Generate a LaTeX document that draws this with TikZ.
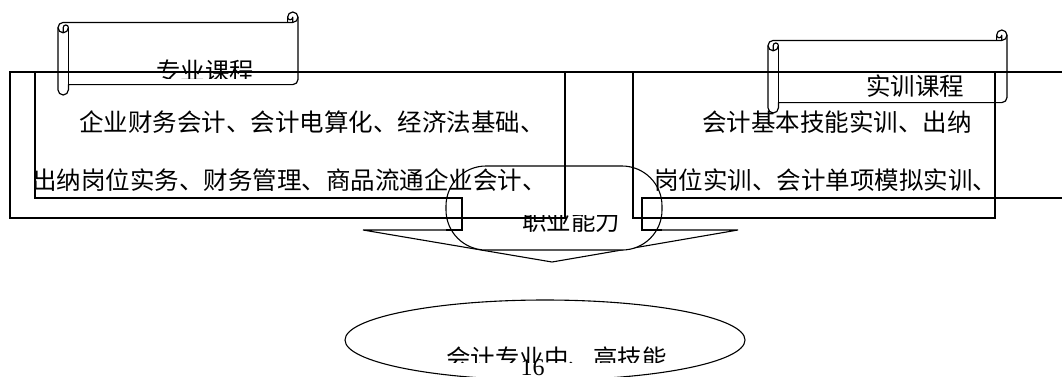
\documentclass[tikz,border=0pt]{standalone}
\usepackage{fontspec}
\newfontfamily\cjk{Noto Sans CJK SC}
\newfontfamily\tnr{Liberation Serif}
\tikzset{
  frame/.style={line width=1.1pt, line join=miter},
  scrollline/.style={line width=1.2pt, line join=round},
  txt/.style={inner sep=0pt, anchor=base west, font=\cjk\fontsize{24.5}{24.5}\selectfont},
}
% horizontal scroll: #1=L #2=T #3=R #4=B #5=c (roll size)
\newcommand\myhscroll[5]{%
  \pgfmathsetmacro\sL{#1}\pgfmathsetmacro\sT{#2}%
  \pgfmathsetmacro\sR{#3}\pgfmathsetmacro\sB{#4}%
  \pgfmathsetmacro\sc{#5}\pgfmathsetmacro\sch{#5/2}\pgfmathsetmacro\scq{#5/4}%
  \draw[scrollline] (\sL,\sT+1.5*\sc) arc[start angle=180,end angle=270,radius=\sch]
     -- (\sR-\sc,\sT+\sc) -- (\sR-\sc,\sT+\sch)
     arc[start angle=180,end angle=360,radius=\sch]
     -- (\sR,\sB-1.5*\sc) arc[start angle=0,end angle=90,radius=\sch]
     -- (\sL+\sc,\sB-\sc) -- (\sL+\sc,\sB-\sch)
     arc[start angle=0,end angle=180,radius=\sch] -- cycle;
  \draw[scrollline] (\sR-\sc,\sT+\sc) -- (\sR-\sch,\sT+\sc)
     arc[start angle=90,end angle=0,radius=\sch];
  \draw[scrollline] (\sR-\sch,\sT+\sc) -- (\sR-\sch,\sT+\sch)
     arc[start angle=0,end angle=180,radius=\scq];
  \draw[scrollline] (\sL+\sch,\sT+2*\sc) -- (\sL+\sch,\sT+1.5*\sc)
     arc[start angle=180,end angle=360,radius=\scq]
     arc[start angle=0,end angle=180,radius=\sch];
  \draw[scrollline] (\sL+\sc,\sT+1.5*\sc) -- (\sL+\sc,\sB-\sc);
}
\begin{document}
\begin{tikzpicture}[x=1pt,y=-1pt]
\useasboundingbox (0,0) rectangle (1062,376);
\clip (0,0) rectangle (1062,376);

% down arrow
\draw[frame] (363,230) -- (552,262) -- (738,230) -- cycle;
% rounded box behind the frames
\draw[frame, fill=white, rounded corners=40pt] (446,166) rectangle (662,250);

% frames
\draw[frame] (10,72) -- (1062,72);
\draw[frame] (10,72) rectangle (565,218);
\draw[frame] (633,72) rectangle (995,218);
\draw[frame] (35,72) -- (35,198) -- (462,198) -- (462,230) -- (446,230);
\draw[frame] (1062,198) -- (642,198) -- (642,230) -- (662,230);

% course texts
\node[txt] (l1) at (79,131.5) {企业财务会计、会计电算化、经济法基础、};
\node[txt] (l2) at (32,189) {出纳岗位实务、财务管理、商品流通企业会计、};
\node[txt] (r1) at (702,131.5) {会计基本技能实训、出纳};
\node[txt] (r2) at (654,189) {岗位实训、会计单项模拟实训、};

% ability label (clipped at top)
\begin{scope}
  \clip (446,215) rectangle (662,250);
  \node[txt] (zy) at (522,230) {职业能力};
\end{scope}

% scrolls
\myhscroll{58}{12}{298}{95}{10.4}
\myhscroll{768}{30}{1007}{113}{10.4}
\begin{scope}
  \clip (100,40) rectangle (300,78);
  \node[txt] (zk) at (156,80.3) {专业课程};
\end{scope}
\node[txt] (sk) at (866,95.8) {实训课程};

% goal ellipse
\draw[frame] (545,340) ellipse [x radius=200, y radius=40];
\begin{scope}
  \clip (300,300) rectangle (800,362);
  \node[txt] (goal) at (446,367.3) {会计专业中、高技能};
\end{scope}
\node[inner sep=0pt, anchor=base west, font=\tnr\fontsize{24}{24}\selectfont] (pg) at (520.5,375) {16};
\end{tikzpicture}
\end{document}
